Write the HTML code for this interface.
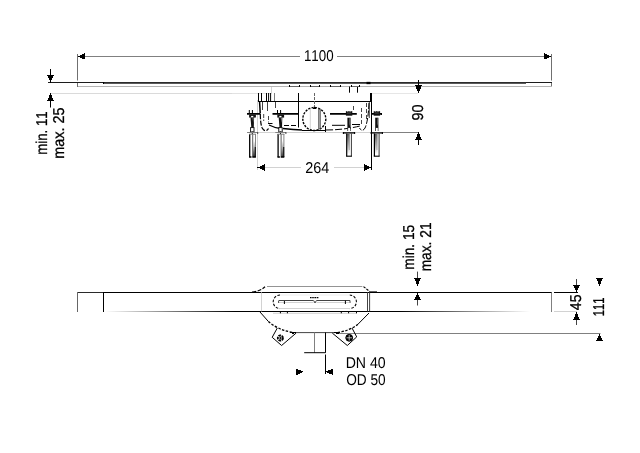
<!DOCTYPE html>
<html>
<head>
<meta charset="utf-8">
<title>Technical drawing</title>
<style>
html,body{margin:0;padding:0;background:#fff;}
body{width:640px;height:453px;overflow:hidden;}
svg{display:block;will-change:transform;}
text{font-family:"Liberation Sans",sans-serif;font-size:15.7px;text-rendering:geometricPrecision;font-kerning:none;fill:#000;}
text.v{stroke:#000;stroke-width:0.3px;}
.k{stroke:#000;fill:none;}
.d{stroke:#444;fill:none;}
.g{stroke:#808080;fill:none;}
.l{stroke:#d2d2d2;fill:none;}
.a{fill:#000;stroke:none;shape-rendering:crispEdges;}
</style>
</head>
<body>
<svg width="640" height="453" viewBox="0 0 640 453">
<defs>
<linearGradient id="fadeIn" x1="105" y1="0" x2="235" y2="0" gradientUnits="userSpaceOnUse">
<stop offset="0" stop-color="#fff"/><stop offset="1" stop-color="#000"/>
</linearGradient>
<linearGradient id="fadeOut" x1="400" y1="0" x2="530" y2="0" gradientUnits="userSpaceOnUse">
<stop offset="0" stop-color="#000"/><stop offset="1" stop-color="#fff"/>
</linearGradient>
<linearGradient id="sleeve" x1="0" y1="0" x2="1" y2="0">
<stop offset="0" stop-color="#fff"/><stop offset="0.45" stop-color="#fff"/><stop offset="0.55" stop-color="#999"/><stop offset="0.75" stop-color="#ddd"/><stop offset="1" stop-color="#eee"/>
</linearGradient>
<linearGradient id="wedge" x1="0" y1="140" x2="0" y2="157" gradientUnits="userSpaceOnUse"><stop offset="0" stop-color="#fff"/><stop offset="0.5" stop-color="#aaa"/><stop offset="1" stop-color="#333"/></linearGradient>
<linearGradient id="wedge2" x1="0" y1="134" x2="0" y2="154" gradientUnits="userSpaceOnUse"><stop offset="0" stop-color="#555"/><stop offset="0.5" stop-color="#aaa"/><stop offset="1" stop-color="#fff"/></linearGradient>
</defs>
<rect width="640" height="453" fill="#fff"/>

<!-- ===== TOP VIEW ===== -->
<g id="top">
<!-- 1100 dimension -->
<path class="g" d="M84 56.5H300M337 56.5H545"/>
<path d="M77.5 54V80.5M77.5 83V87M551.5 54V80.5M551.5 83V87" stroke="#707070" fill="none"/>
<path class="a" d="M77.6 56.4L85 53V59.6ZM551.4 56.4L544 53V59.6Z"/>
<!-- top bar -->
<path d="M48 82.5H103M526 82.5H552" stroke="#1c1c1c" fill="none"/>
<path d="M103 82.5H526" stroke="#2c2c2c" fill="none"/>
<rect x="103" y="82" width="1.2" height="2" fill="#000"/>
<path d="M104 83.5H526" stroke="#5a5a5a" fill="none"/>
<path d="M78 86.5H552" stroke="#b4b4b4" fill="none"/>
<path d="M51 93.5H232" stroke="#dadada" fill="none"/><path d="M372 93.5H418" stroke="#e6e6e6" fill="none"/>
<path d="M232 93.5H272" stroke="#e2e2e2" fill="none"/>
<path class="l" d="M247 132.5H383"/>
<!-- left arrows -->
<path class="k" d="M50.5 69V76M50.5 100V107.5"/>
<path class="a" d="M50.5 82.6L47 75H54ZM50.5 93.2L47 101H54Z"/>
<!-- 90 dimension -->
<path class="k" d="M418.5 80V86M418.5 139V145"/>
<path class="a" d="M418.5 93.1L415 85.3H422ZM418.5 131.9L415 140H422Z"/>
<path class="g" d="M383 132.5H418"/>
<!-- 264 dimension -->
<path class="l" d="M265 167.5H301M334 167.5H364"/>
<path class="l" d="M257.5 100V170"/>
<path class="k" d="M371.5 101V170"/>
<path class="a" d="M257.3 167.5L265.3 164.1V170.9ZM371.7 167.5L363.6 164.1V170.9Z"/>
</g>

<!-- mechanism top -->
<g id="mech">
<!-- ticks top-left -->
<path class="k" d="M258.5 93V101.5M261.5 93V101.5M266.5 93V101.5M268.6 93V101.5M270.6 93V101.5"/><path class="g" d="M274.5 93V101.5"/>
<path class="k" d="M258 101.5H371"/>
<path class="k" d="M298.5 93V127.5"/>
<path d="M314.5 93V107" stroke="#666" stroke-dasharray="3 1" fill="none"/>
<path class="l" d="M271.5 87V93"/>
<!-- small ticks under bar -->
<path class="k" d="M349.5 86.5V92.7M357.5 86.5V92.7"/>
<path d="M289.5 86.5H299.5M310.5 86.5H319.5M330 86.5H340.5M351 86.5H359.5" stroke="#666" fill="none"/>
<path class="a" d="M288.8 85.3h1.4v1.6h-1.4zM298.8 85.3h1.4v1.6h-1.4zM309.8 85.3h1.4v1.6h-1.4zM318.8 85.3h1.4v1.6h-1.4zM329.5 85.3h1.4v1.6h-1.4zM339.8 85.3h1.4v1.6h-1.4zM350.8 85.3h1.4v1.6h-1.4zM358.9 85.3h1.4v1.6h-1.4z"/>
<path d="M366.5 83H370.5" stroke="#000" stroke-width="2.3" fill="none"/>
<!-- right thick vertical -->
<path d="M371 93V102" stroke="#000" stroke-width="2" fill="none"/>
<path class="d" d="M369.3 102V118"/>
<!-- thick rail -->
<path d="M247 113.9H260.5M272.5 113.9H299M330 113.9H356.8M371.6 113.9H381" stroke="#000" stroke-width="1.7" fill="none"/>
<path class="a" d="M380.5 112.8L382.9 114.2L380.5 115Z"/>
<!-- circle -->
<circle cx="314.3" cy="119" r="11.5" fill="#fff" stroke="#000" stroke-width="1.4" stroke-dasharray="2.2 1.2"/>
<path class="l" d="M310.3 109V129"/>
<path class="d" d="M318.8 108.5V129.5M320.2 109V129"/>
<path class="a" d="M314.5 106.5L312.5 109H316.5Z"/>
<path class="k" d="M302 130.5H326M325.5 126V132"/>
<!-- housing curves -->
<path class="k" d="M259.6 102L260.2 113" stroke-width="1.5"/>
<path class="k" d="M260.3 114C260.4 120 260.8 125 262.2 128C264 131.5 267 131.3 268.5 128.5" stroke-dasharray="5 1.5" stroke-width="1.2"/>
<path class="d" d="M262.5 102V110M267.5 102V111"/>
<path class="d" d="M263.7 114V121M268.5 116V122.5" stroke-dasharray="4 1.5"/>
<path class="d" d="M275.5 102V108"/>
<path class="k" d="M269 125C274 127.5 278 128.3 280.5 128.5M283 128.5C288 129 294 129.6 302 130" stroke-width="1.3"/>
<path class="k" d="M268 123.5H272.5M284 125.5H297" stroke-dasharray="5 2"/>
<path class="k" d="M326 130C340 130 352 128 360 126" stroke-dasharray="7 2"/>
<path class="k" d="M332 125.3H345M352 124.5H360"/>
<path class="k" d="M369 103C368.5 115 367 124 365 128C363.5 131 361 131 359.5 128" stroke-dasharray="6 1.5"/>
<path class="d" d="M366.5 103V120M361.5 108V124M353.5 106V110" stroke-dasharray="4 2"/>
<!-- bolts -->
<g>
<path class="k" d="M249.30 110V113.5M252.40 110V113.5"/>
<path d="M249.10 114.6H255.90V117.6H249.10Z" fill="#111"/>
<rect x="251.10" y="115.9" width="2.2" height="1.7" fill="#fff"/>
<path d="M250.50 117.5L254.10 117.5L253.80 127.6L251.30 127.6Z" fill="#111"/>
<path d="M252.60 118L253.60 118L253.20 123Z" fill="#999"/>
<rect x="250.60" y="127.6" width="3.4" height="4.4" fill="#fff" stroke="#000" stroke-width="0.9"/>
<path class="k" d="M252.30 131.5V134"/>
<path class="g" d="M247.10 132.5H257.90"/>
<path class="d" d="M257.70 132V134"/>
<rect x="249.10" y="134" width="6.8" height="23.2" fill="#fff"/>
<path d="M252.70 157L253.70 140L255.50 144V157Z" fill="url(#wedge)"/>
<path class="k" d="M249.70 134V157.3" stroke-width="1.3"/>
<path d="M252.70 134V156.5" stroke="#333" stroke-width="0.8" fill="none"/>
<path d="M255.50 134V157" stroke="#777" stroke-width="0.9" fill="none"/>
<path d="M255.30 147V157" stroke="#111" stroke-width="1.1" fill="none"/>
<path class="g" d="M249.10 134.2H255.90"/>
<path class="k" d="M249.10 157H251.50M252.30 157H255.90" stroke-width="1.3"/>
</g>
<g>
<path class="k" d="M277.50 110V113.5M280.60 110V113.5"/>
<path d="M277.30 114.6H284.10V117.6H277.30Z" fill="#111"/>
<rect x="279.30" y="115.9" width="2.2" height="1.7" fill="#fff"/>
<path d="M278.70 117.5L282.30 117.5L282.00 127.6L279.50 127.6Z" fill="#111"/>
<path d="M280.80 118L281.80 118L281.40 123Z" fill="#999"/>
<rect x="278.80" y="127.6" width="3.4" height="4.4" fill="#fff" stroke="#000" stroke-width="0.9"/>
<path class="k" d="M280.50 131.5V134"/>
<path class="g" d="M275.30 132.5H286.10"/>
<path class="d" d="M285.90 132V134"/>
<rect x="277.50" y="134" width="6.8" height="23.2" fill="#fff"/>
<path d="M281.10 157L282.10 140L283.90 144V157Z" fill="url(#wedge)"/>
<path class="k" d="M278.10 134V157.3" stroke-width="1.3"/>
<path d="M281.10 134V156.5" stroke="#333" stroke-width="0.8" fill="none"/>
<path d="M283.90 134V157" stroke="#777" stroke-width="0.9" fill="none"/>
<path d="M283.70 147V157" stroke="#111" stroke-width="1.1" fill="none"/>
<path class="g" d="M277.50 134.2H284.30"/>
<path class="k" d="M277.50 157H279.90M280.70 157H284.30" stroke-width="1.3"/>
</g>
<g>
<path d="M345.90 111.2H352.30V115.7H345.90Z" fill="#111"/>
<path d="M347.00 111H351.20" stroke="#fff" stroke-width="0.9" stroke-dasharray="1.2 1.4" fill="none"/>
<path d="M347.00 113H351.00" stroke="#777" stroke-width="0.6" fill="none"/>
<path d="M347.40 117.7H350.60V131H347.40Z" fill="#111"/>
<path d="M349.20 118.2H350.00V124L349.20 126Z" fill="#666"/>
<rect x="348.10" y="127.9" width="1.9" height="3.1" fill="#fff"/>
<path class="k" d="M343.10 132.9H354.90" stroke-width="1.3"/>
<path class="k" d="M343.40 132V134M354.60 132V134" stroke-width="1.1"/>
<rect x="346.10" y="134" width="5.8" height="22.3" fill="#fff"/>
<rect x="347.10" y="134" width="2.6" height="20" fill="url(#wedge2)"/>
<path class="k" d="M346.70 133.5V156.3" stroke-width="1.2"/>
<path d="M351.40 133.5V156.3" stroke="#222" stroke-width="0.9" fill="none"/>
<path d="M349.30 134V150" stroke="#999" stroke-width="0.7" fill="none"/>
<path class="k" d="M346.10 156.2H351.90" stroke-width="1.1"/>
</g>
<g>
<path d="M373.70 111.2H380.10V115.7H373.70Z" fill="#111"/>
<path d="M374.80 111H379.00" stroke="#fff" stroke-width="0.9" stroke-dasharray="1.2 1.4" fill="none"/>
<path d="M374.80 113H378.80" stroke="#777" stroke-width="0.6" fill="none"/>
<path d="M375.20 117.7H378.40V131H375.20Z" fill="#111"/>
<path d="M377.00 118.2H377.80V124L377.00 126Z" fill="#666"/>
<rect x="375.90" y="127.9" width="1.9" height="3.1" fill="#fff"/>
<path class="k" d="M370.90 132.9H382.70" stroke-width="1.3"/>
<path class="k" d="M371.20 132V134M382.40 132V134" stroke-width="1.1"/>
<rect x="373.80" y="134" width="5.8" height="22.3" fill="#fff"/>
<rect x="374.80" y="134" width="2.6" height="20" fill="url(#wedge2)"/>
<path class="k" d="M374.40 133.5V156.3" stroke-width="1.2"/>
<path d="M379.10 133.5V156.3" stroke="#222" stroke-width="0.9" fill="none"/>
<path d="M377.00 134V150" stroke="#999" stroke-width="0.7" fill="none"/>
<path class="k" d="M373.80 156.2H379.60" stroke-width="1.1"/>
</g>
</g>

<!-- ===== BOTTOM VIEW ===== -->
<g id="bottom">
<path d="M77 292.5H103" stroke="#2a2a2a" fill="none"/><path class="k" d="M103 292.5H552"/>
<path d="M77.5 292V312" stroke="#666" fill="none"/>
<path class="k" d="M103.5 292V312"/>
<path d="M105 311.5H235" stroke="url(#fadeIn)" fill="none"/>
<path class="k" d="M235 311.5H400"/>
<path d="M400 311.5H530" stroke="url(#fadeOut)" fill="none"/>
<path class="g" d="M551.5 292.4V312"/>
<path class="k" d="M554 292.5H578"/>
<path class="l" d="M554 311.5H577"/>
<!-- housing -->
<path d="M267 286.5H362.3" stroke="#949494" fill="none"/>
<path class="k" d="M252 292C258 291.5 262 289.5 265 286.7" stroke-dasharray="4 1.5" stroke-width="1.2"/>
<path class="k" d="M363.5 286.6L369.8 291.6" stroke-dasharray="2.5 1.2" stroke-width="1.2"/>
<path class="k" d="M370 291.9H377"/>
<path class="l" d="M261.5 292.4V311.4"/>
<path class="d" d="M367.5 292.4V311.4M369.6 292.4V311.4"/>
<!-- slot -->
<path class="k" d="M280 295A6.8 6.8 0 0 0 280 308.6" stroke-dasharray="2.6 1.6" stroke-width="1.05"/>
<path class="k" d="M349.6 295A6.8 6.8 0 0 1 349.6 308.6" stroke-dasharray="2.6 1.6" stroke-width="1.05"/>
<path class="l" d="M280 308.5H350"/><path d="M280 295H350" stroke="#ececec" fill="none"/>
<path class="d" d="M279 300.5H313.5M316.5 300.5H350"/>
<path class="l" d="M279 302.5H313.5M316.5 302.5H349"/>
<path class="d" d="M278.6 300.5V303M350 300.5V303M313.7 300.5L315 303L316.4 300.5"/>
<path class="k" d="M284.4 301V304M345.4 300.5V304"/>
<path d="M310 297.7H319" stroke="#000" stroke-width="1.3" stroke-dasharray="1.6 0.6" fill="none"/>
<!-- under-bar ticks -->
<path class="l" d="M273 313.3H357"/>
<path class="k" d="M280.4 311.5V313.3M287.4 311.5V313.3M341.3 311.5V313.3M348.6 311.5V313.3M356.5 311.5V313.3"/>
<!-- bowl -->
<path class="k" d="M260 312L268.4 321.5"/>
<path class="k" d="M268.4 321.5Q278 330 293.8 332.7" stroke-dasharray="2.5 1.5" stroke-width="1.3"/>
<path class="k" d="M369 313L358 324.2"/>
<path class="k" d="M358 324.2Q350 330.5 337.5 332.7" stroke-dasharray="2.5 1.5" stroke-width="1.3"/>
<path class="d" d="M293 332.6H337.5"/>
<path class="g" d="M337.5 333.5H600.5"/>
<path class="a" d="M289 331.8L297 332L293 334.2ZM341.5 331.8L333.5 332L337.5 334.2Z"/>
<!-- feet -->
<path class="k" d="M277.3 328L272.2 337.3L281.6 345.5L296.1 333.1"/>
<path class="k" d="M352 328L356.7 336.9L347.3 345.5L332.3 333.1"/>
<circle cx="280.4" cy="338" r="2.6" fill="#fff" stroke="#000" stroke-width="1.8" stroke-dasharray="2.6 0.7"/>
<path class="k" d="M279.2 338H282M280.4 336.6V339.6" stroke-width="0.9"/>
<circle cx="349.2" cy="337.8" r="3.4" fill="#000" stroke="#000" stroke-width="1"/>
<path d="M346.5 337.8H352M349.2 335V340.6" stroke="#ddd" stroke-width="0.8" fill="none"/>
<!-- pipe -->
<path class="g" d="M314.5 332.5V352.8"/>
<path class="k" d="M325.5 332.5V352.8M325.5 354.5V374M304.2 352.7H325.5"/>
<path class="a" d="M303.8 371.8L296.2 368.5V375.1ZM325.5 371.8L333 368.5V375.1Z"/>
<!-- min 15 / max 21 -->
<path class="d" d="M417.5 271.6V279M417.5 299V305.5"/>
<path class="a" d="M417.5 286.1L414 278H421ZM417.5 292.5L414 300H421Z"/>
<!-- 45 -->
<path class="d" d="M576.5 279V286M576.5 319V325"/>
<path class="a" d="M576.5 292.4L573 285H580ZM576.5 311.9L573 320H580Z"/>
<!-- 111 -->
<path class="a" d="M599.5 285.9L596 278.2H603ZM599.5 333.5L596 341.2H603Z"/>
</g>
<g id="labels">
<text transform="translate(303.90 60.80) scale(0.8504 1.0)">1100</text>
<text transform="translate(305.18 172.90) scale(0.9193 1.0)">264</text>
<text transform="translate(345.65 367.70) scale(0.9006 1.0)">DN 40</text>
<text transform="translate(346.20 385.00) scale(0.8707 1.0)">OD 50</text>
<text class="v" transform="translate(46.90 154.73) rotate(-90) scale(0.8431 1.0)">min. 11</text>
<text class="v" transform="translate(63.90 158.65) rotate(-90) scale(0.9184 1.0)">max. 25</text>
<text class="v" transform="translate(423.30 120.38) rotate(-90) scale(0.9173 1.0)">90</text>
<text class="v" transform="translate(413.70 269.66) rotate(-90) scale(0.8715 1.0)">min. 15</text>
<text class="v" transform="translate(430.70 271.36) rotate(-90) scale(0.8767 1.0)">max. 21</text>
<text class="v" transform="translate(580.80 310.16) rotate(-90) scale(0.8926 1.0)">45</text>
<text class="v" transform="translate(604.00 316.24) rotate(-90) scale(0.7151 1.0)">111</text>
</g>
</svg>
</body>
</html>
